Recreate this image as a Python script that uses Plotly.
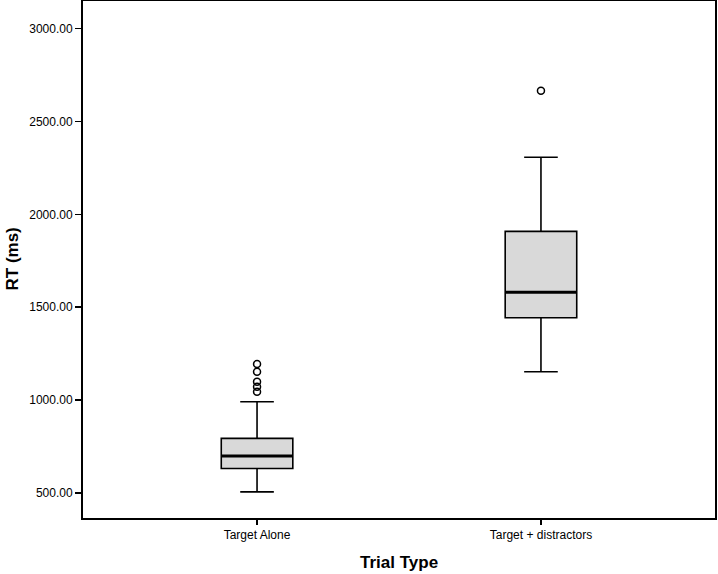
import plotly.graph_objects as go

categories = ["Target Alone", "Target + distractors"]
q1 = [631, 1443]
median = [698, 1580]
q3 = [793, 1908]
lower_fence = [505, 1152]
upper_fence = [990, 2307]
outliers = [[1193, 1152, 1098, 1071, 1044], [2666]]
y_ticks = [500, 1000, 1500, 2000, 2500, 3000]

xpos = list(range(len(categories)))
box_w = 0.252

fig = go.Figure()
fig.add_trace(go.Box(
    x=xpos, q1=q1, median=median, q3=q3,
    lowerfence=lower_fence, upperfence=upper_fence,
    width=box_w, whiskerwidth=0.47,
    fillcolor="#d9d9d9", line=dict(color="black", width=1.6),
    boxpoints=False, showlegend=False, hoverinfo="skip",
))
for i, m in enumerate(median):
    fig.add_trace(go.Scatter(
        x=[xpos[i] - box_w / 2, xpos[i] + box_w / 2], y=[m, m],
        mode="lines", line=dict(color="black", width=3.2),
        showlegend=False, hoverinfo="skip",
    ))
for i, outs in enumerate(outliers):
    fig.add_trace(go.Scatter(
        x=[xpos[i]] * len(outs), y=outs, mode="markers",
        marker=dict(symbol="circle-open", size=7, color="black", line=dict(width=1.5)),
        showlegend=False, hoverinfo="skip",
    ))

font_family = "Liberation Sans, Arial, sans-serif"
fig.update_layout(
    width=718, height=574,
    margin=dict(l=83, r=3, t=1, b=56),
    paper_bgcolor="white", plot_bgcolor="white",
    font=dict(family=font_family, color="black", size=12),
    xaxis=dict(
        range=[-0.613, 1.613], tickvals=xpos, ticktext=categories,
        showline=True, linecolor="black", linewidth=2, mirror=True,
        ticks="outside", ticklen=5, tickwidth=1.5, tickcolor="black",
        showgrid=False, zeroline=False, automargin=False,
        tickfont=dict(size=12),
    ),
    yaxis=dict(
        range=[364, 3149], tickvals=y_ticks, tickformat=".2f",
        showline=True, linecolor="black", linewidth=2, mirror=True,
        ticks="outside", ticklen=6, tickwidth=1.5, tickcolor="black",
        showgrid=False, zeroline=False, automargin=False,
        tickfont=dict(size=12),
    ),
    annotations=[
        dict(text="<b>Trial Type</b>", xref="paper", yref="paper",
             x=0.5, y=0, yshift=-44, xanchor="center", yanchor="middle",
             showarrow=False, font=dict(size=17)),
        dict(text="<b>RT (ms)</b>", xref="paper", yref="paper",
             x=0, y=0.5, xshift=-71, textangle=-90, xanchor="center", yanchor="middle",
             showarrow=False, font=dict(size=17)),
    ],
)
fig.write_html(
    "out.html",
    config={"displayModeBar": False, "staticPlot": True},
    post_script="document.body.style.margin='0';document.body.style.overflow='hidden';",
)
